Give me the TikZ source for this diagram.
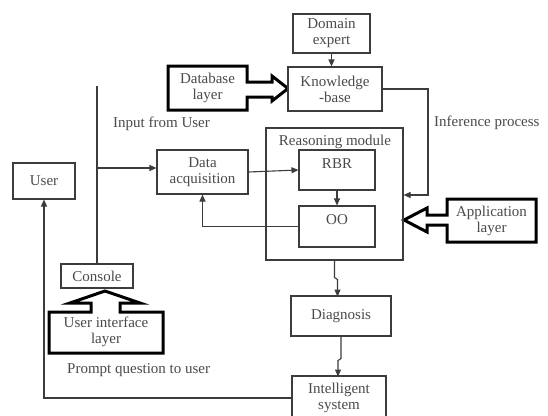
\documentclass[tikz,border=0pt]{standalone}
\usepackage{fontspec}
\setmainfont{Liberation Serif}
\usetikzlibrary{arrows.meta}
\definecolor{txt}{HTML}{4A4A4A}
\definecolor{ln}{HTML}{3C3C3C}
\begin{document}
\begin{tikzpicture}[x=1pt,y=-1pt,
  every node/.style={font=\fontsize{15}{16}\selectfont, text=txt, align=center, inner sep=0pt},
  box/.style={draw=ln, line width=1.1pt, fill=white},
  conn/.style={draw=ln, line width=1.1pt},
  arr/.style={conn, -{Triangle[length=7pt,width=6pt]}},
  blockarrow/.style={draw=black, line width=3pt, line join=miter, fill=white},
  lbl/.style={}]
\useasboundingbox (0,0) rectangle (548,415);
\fill[white] (0,0) rectangle (548,415);

% block arrows (drawn first)
\draw[blockarrow] (168,66) -- (247,66) -- (247,82) -- (272,82) -- (272,76) -- (288,88.5) -- (272,101) -- (272,97) -- (247,97) -- (247,110) -- (168,110) -- cycle;
\node (dbl) at (207.5,88) {Database\\layer};

\draw[blockarrow] (536,199) -- (447,199) -- (447,215) -- (427,215) -- (427,208) -- (404,220) -- (427,232) -- (427,225) -- (447,225) -- (447,242) -- (536,242) -- cycle;
\node (appl) at (491.5,220.5) {Application\\layer};

\draw[blockarrow] (49,312) -- (91,312) -- (91,303) -- (70,303) -- (105,291) -- (140,303) -- (120,303) -- (120,312) -- (163,312) -- (163,353) -- (49,353) -- cycle;
\node (uil) at (106,332) {User interface\\layer};

% boxes
\node[box, minimum width=77pt, minimum height=39pt] (domain) at (331.5,33.5) {Domain\\expert};
\node[box, minimum width=94pt, minimum height=44pt] (kb) at (335,89) {Knowledge\\-base};
\node[box, minimum width=91pt, minimum height=44pt] (da) at (202.5,172) {Data\\acquisition};
\node[box, minimum width=62pt, minimum height=36pt] (user) at (44,181) {User};
\node[box, minimum width=137pt, minimum height=132pt, fill=none] (reason) at (334.5,194) {};
\node (reasonlbl) at (335,142) {Reasoning module};
\node[box, minimum width=76pt, minimum height=40pt, text depth=12pt] (rbr) at (337,170) {RBR};
\node[box, minimum width=76pt, minimum height=41pt, text depth=13pt] (oo) at (337,226.5) {OO};
\node[box, minimum width=72pt, minimum height=24pt] (console) at (97,276) {Console};
\node[box, minimum width=100pt, minimum height=40pt] (diag) at (341,316) {Diagnosis};
\node[box, minimum width=94pt, minimum height=48pt] (intel) at (339,400) {};
\node (inteltxt) at (339,397.5) {Intelligent\\system};

% labels
\node[anchor=west] (inlbl) at (113,124) {Input from User};
\node[anchor=west] (inflbl) at (434,123) {Inference process};
\node[anchor=west] (prlbl) at (67,370) {Prompt question to user};

% connectors
\draw[arr] (domain.south) -- (domain.south |- kb.north);
\coordinate (ic) at (428,195);
\draw[arr] (kb.east) -| (ic) -- (reason.east |- ic);
\coordinate (vtop) at (97,86);
\draw[conn] (vtop) -- (console.north);
\coordinate (vj) at (97,168);
\draw[arr] (vj) -- (vj -| da.west);
\draw[arr] (da.east) -- (rbr.west);
\draw[arr] (rbr.south) -- (oo.north);
\draw[arr] (oo.west) -| (da.south);
\draw[arr] (reason.south) -- ++(0,17) -- ++(3,2) -- ++(0,17);
\draw[arr] (diag.south) -- ++(0,22) -- ++(-3,2) -- ++(0,16);
\draw[arr] (intel.west |- 0,398) -| (user.south);
\end{tikzpicture}
\end{document}
